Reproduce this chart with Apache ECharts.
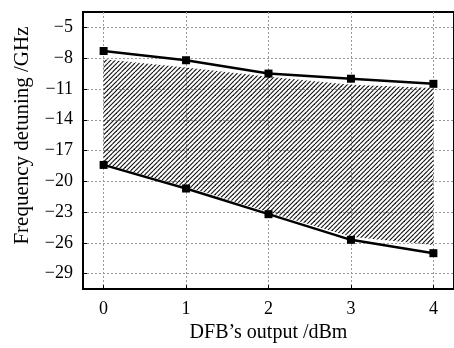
<!DOCTYPE html>
<html>
<head>
<meta charset="utf-8">
<script src="https://cdn.jsdelivr.net/npm/echarts@6/dist/echarts.min.js"></script>
<style>
  html, body { margin: 0; padding: 0; background: #fff; }
  #chart { width: 454px; height: 348px; }
</style>
</head>
<body>
<div id="chart"></div>
<script>
// DFB output (dBm)
var xValues = [0, 1, 2, 3, 4];
var xTicks = [0, 1, 2, 3, 4];
var yTicks = [-29, -26, -23, -20, -17, -14, -11, -8, -5];
// upper / lower detuning limits (GHz)
var upperLimit = [-7.3, -8.2, -9.5, -10.0, -10.5];
var lowerLimit = [-18.4, -20.7, -23.2, -25.7, -27.0];
// hatched band edges
var hatchTop = [-8.1, -8.9, -9.8, -10.6, -10.9];
var hatchBottom = [-18.3, -20.5, -23.0, -25.4, -26.2];

var font = 'Liberation Serif';

// diagonal hatch tile
function makeHatch() {
    var s = 9;
    var c = document.createElement('canvas');
    c.width = s; c.height = s;
    var ctx = c.getContext('2d');
    ctx.strokeStyle = '#111';
    ctx.lineWidth = 1.1;
    for (var k = -2; k <= 2; k++) {
        var o = k * s / 2;
        ctx.beginPath();
        ctx.moveTo(o, s);
        ctx.lineTo(o + s, 0);
        ctx.stroke();
    }
    return c;
}
var hatch = makeHatch();

function pairs(ys) {
    return xValues.map(function (x, i) { return [x, ys[i]]; });
}
function minus(v) {
    return String(v).replace('-', '\u2212');
}

var myChart = echarts.init(document.getElementById('chart'));
var option = {
    animation: false,
    backgroundColor: '#fff',
    grid: {
        left: 83,
        right: -2,
        top: 12,
        bottom: 56,
        show: true,
        borderColor: '#000',
        borderWidth: 2
    },
    xAxis: {
        type: 'value',
        min: -0.25,
        max: 4.25,
        name: 'DFB\u2019s output /dBm',
        nameLocation: 'middle',
        nameGap: 28,
        nameTextStyle: { fontFamily: font, fontSize: 20, color: '#000' },
        axisLine: { onZero: false, lineStyle: { color: '#000', width: 2 } },
        axisTick: { inside: true, length: 4, lineStyle: { color: '#000' }, customValues: xTicks },
        axisLabel: { fontFamily: font, fontSize: 18, color: '#000', margin: 11, customValues: xTicks },
        splitLine: { show: true, lineStyle: { color: '#999', type: [2, 2], width: 1 } }
    },
    yAxis: {
        type: 'value',
        min: -30.5,
        max: -3.5,
        name: 'Frequency detuning /GHz',
        nameLocation: 'middle',
        nameGap: 50,
        nameTextStyle: { fontFamily: font, fontSize: 21, color: '#000', padding: [0, 0, 0, 30] },
        axisLine: { onZero: false, lineStyle: { color: '#000', width: 2 } },
        axisTick: { inside: true, length: 4, lineStyle: { color: '#000' }, customValues: yTicks },
        axisLabel: {
            fontFamily: font, fontSize: 18, color: '#000', margin: 10,
            customValues: yTicks,
            formatter: minus
        },
        splitLine: { show: true, lineStyle: { color: '#999', type: [2, 2], width: 1 } }
    },
    series: [
        {
            type: 'custom',
            data: [[0, 0]],
            silent: true,
            z: 1,
            renderItem: function (params, api) {
                var pts = [];
                xValues.forEach(function (x, i) { pts.push(api.coord([x, hatchTop[i]])); });
                for (var i = xValues.length - 1; i >= 0; i--) {
                    pts.push(api.coord([xValues[i], hatchBottom[i]]));
                }
                return {
                    type: 'polygon',
                    shape: { points: pts },
                    style: { fill: { image: hatch, repeat: 'repeat' }, stroke: null }
                };
            }
        },
        {
            type: 'line',
            data: pairs(upperLimit),
            symbol: 'rect',
            symbolSize: 8,
            color: '#000',
            lineStyle: { color: '#000', width: 2.5 },
            z: 3
        },
        {
            type: 'line',
            data: pairs(lowerLimit),
            symbol: 'rect',
            symbolSize: 8,
            color: '#000',
            lineStyle: { color: '#000', width: 2.5 },
            z: 3
        }
    ]
};
option && myChart.setOption(option);
</script>
</body>
</html>
